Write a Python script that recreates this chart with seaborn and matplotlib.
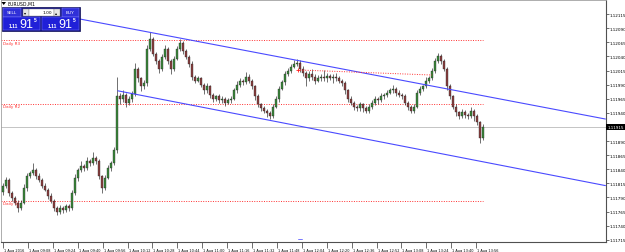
import matplotlib
matplotlib.use('Agg')
import matplotlib.pyplot as plt
import matplotlib.transforms as mtransforms
from matplotlib.patches import Rectangle, Polygon
import seaborn as sns
import numpy as np

sns.set_theme(style='white')
plt.rcParams['font.family'] = ['DejaVu Sans']

# EURUSD M1 closes
closes = [
    1.11811, 1.11821, 1.11798, 1.11789, 1.11781, 1.11772, 1.11781, 1.11807, 1.11828, 1.11833,
    1.11839, 1.11828, 1.11821, 1.11811, 1.11804, 1.11793, 1.11784, 1.11772, 1.11765, 1.11772,
    1.11768, 1.11775, 1.11772, 1.11798, 1.11825, 1.11839, 1.11846, 1.11842, 1.11855, 1.11851,
    1.11860, 1.11855, 1.11828, 1.11807, 1.11825, 1.11842, 1.11851, 1.11874, 1.11969, 1.11965,
    1.11972, 1.11958, 1.11965, 1.11974, 1.12018, 1.12001, 1.11987, 1.11992, 1.12053, 1.12071,
    1.12045, 1.12032, 1.12018, 1.12039, 1.12053, 1.12032, 1.12018, 1.12036, 1.12053, 1.12064,
    1.12050, 1.12039, 1.12027, 1.12004, 1.11997, 1.12001, 1.11990, 1.11980, 1.11987, 1.11972,
    1.11965, 1.11969, 1.11962, 1.11965, 1.11958, 1.11962, 1.11965, 1.11980, 1.11990, 1.11997,
    1.11994, 1.12004, 1.11997, 1.11987, 1.11969, 1.11955, 1.11948, 1.11944, 1.11939, 1.11934,
    1.11951, 1.11965, 1.11983, 1.11994, 1.12008, 1.12015, 1.12022, 1.12027, 1.12029, 1.12018,
    1.12011, 1.12001, 1.12008, 1.12004, 1.11997, 1.12002, 1.12004, 1.12001, 1.12006, 1.12001,
    1.12004, 1.12001, 1.11997, 1.11992, 1.11980, 1.11965, 1.11958, 1.11951, 1.11948, 1.11955,
    1.11948, 1.11944, 1.11951, 1.11958, 1.11965, 1.11962, 1.11969, 1.11972, 1.11976, 1.11980,
    1.11983, 1.11976, 1.11972, 1.11969, 1.11958, 1.11951, 1.11944, 1.11951, 1.11976, 1.11983,
    1.11987, 1.11997, 1.12001, 1.12015, 1.12032, 1.12041, 1.12032, 1.12018, 1.11987, 1.11969,
    1.11951, 1.11941, 1.11934, 1.11941, 1.11937, 1.11934, 1.11944, 1.11934, 1.11923, 1.11895,
    1.11915,
]
first_open = 1.11800
# wick length above / below the body, in points (0.00001)
wick_hi = [
    4, 6, 3, 4, 3, 5, 4, 6, 5, 4,
    12, 3, 5, 3, 4, 3, 4, 3, 2, 5,
    3, 4, 3, 5, 6, 4, 8, 3, 6, 4,
    10, 4, 3, 2, 4, 5, 4, 6, 35, 6,
    8, 3, 5, 4, 10, 4, 3, 6, 8, 12,
    4, 3, 4, 6, 8, 3, 4, 5, 6, 7,
    3, 4, 3, 4, 3, 5, 3, 2, 5, 3,
    4, 3, 4, 5, 3, 4, 5, 4, 6, 5,
    3, 8, 4, 3, 3, 4, 3, 4, 3, 4,
    5, 4, 5, 4, 6, 5, 4, 6, 7, 4,
    5, 3, 6, 10, 4, 5, 4, 12, 4, 3,
    5, 6, 4, 3, 4, 3, 4, 3, 3, 5,
    3, 4, 5, 4, 5, 3, 6, 4, 5, 4,
    6, 3, 4, 3, 4, 3, 2, 5, 4, 5,
    3, 6, 4, 5, 6, 5, 4, 3, 3, 4,
    3, 4, 3, 5, 4, 3, 6, 3, 4, 3,
    5,
]
wick_lo = [
    5, 4, 6, 5, 4, 8, 4, 3, 5, 4,
    3, 6, 4, 5, 3, 5, 4, 6, 7, 4,
    5, 3, 6, 4, 3, 5, 4, 6, 3, 5,
    4, 6, 5, 10, 4, 3, 5, 4, 6, 10,
    5, 8, 4, 6, 4, 6, 8, 5, 4, 3,
    5, 6, 8, 4, 3, 5, 10, 4, 3, 4,
    5, 4, 5, 6, 4, 3, 5, 6, 4, 5,
    6, 4, 5, 4, 6, 3, 4, 3, 5, 4,
    5, 3, 4, 5, 6, 4, 5, 4, 6, 5,
    4, 3, 5, 3, 4, 3, 4, 3, 4, 6,
    5, 14, 4, 5, 6, 3, 5, 4, 6, 3,
    8, 4, 5, 4, 6, 5, 4, 6, 5, 4,
    6, 5, 4, 5, 4, 6, 3, 5, 4, 3,
    5, 6, 4, 5, 4, 6, 5, 4, 3, 5,
    4, 3, 5, 3, 4, 3, 5, 4, 6, 5,
    4, 6, 5, 4, 6, 5, 3, 8, 5, 9,
    3,
]

price_ticks = [1.12115, 1.12090, 1.12065, 1.12040, 1.12015, 1.11990, 1.11965, 1.11940,
               1.11890, 1.11865, 1.11840, 1.11815, 1.11790, 1.11765, 1.11740, 1.11715]
time_labels = ['1 Aug 2016', '1 Aug 09:08', '1 Aug 09:24', '1 Aug 09:40', '1 Aug 09:56',
               '1 Aug 10:12', '1 Aug 10:28', '1 Aug 10:44', '1 Aug 11:00', '1 Aug 11:16',
               '1 Aug 11:32', '1 Aug 11:48', '1 Aug 12:04', '1 Aug 12:20', '1 Aug 12:36',
               '1 Aug 12:52', '1 Aug 13:08', '1 Aug 13:24', '1 Aug 13:40', '1 Aug 13:56']
pivot_names = ['Daily R3', 'Daily R2', 'Daily S1']
pivot_levels = [1.12069, 1.11956, 1.11784]
bid = 1.11915
upper_x, upper_y = [19, 200.8], [1.12113, 1.11929]
lower_x, lower_y = [38.3, 200.8], [1.11979, 1.11811]
red_x, red_y = [98.3, 143], [1.12016, 1.12007]

fig = plt.figure(figsize=(6.25, 2.53), dpi=100)
fig.patch.set_facecolor('white')
ax = fig.add_axes([1 / 625, 10 / 253, 604.5 / 625, 242 / 253])
ax.set_facecolor('white')

c = np.array(closes)
o = np.array([first_open] + closes[:-1])
x = np.arange(len(c))
hi = np.maximum(o, c) + np.array(wick_hi) / 1e5
lo = np.minimum(o, c) - np.array(wick_lo) / 1e5
ax.vlines(x, lo, hi, color='#202020', lw=0.45, zorder=3)
body = np.maximum(np.abs(c - o), 0.000012)
up = c >= o
ax.bar(x[up], body[up], bottom=np.minimum(o, c)[up], width=0.6, color='#3b8a3b',
       edgecolor='#202020', linewidth=0.25, zorder=4)
ax.bar(x[~up], body[~up], bottom=np.minimum(o, c)[~up], width=0.6, color='#8c3f3f',
       edgecolor='#202020', linewidth=0.25, zorder=4)

# bid line
ax.axhline(bid, color='#c4c4c4', lw=0.7, zorder=1)

# pivots
for name, lvl in zip(pivot_names, pivot_levels):
    ax.hlines(lvl, -0.67, 160, color='#ff3030', lw=0.7, linestyles=(0, (1, 1.5)), zorder=2)
    ax.text(0, lvl - 0.00001, name, color='#ff3030', fontsize=3, va='top', ha='left')

# channel
sns.lineplot(x=upper_x, y=upper_y, color='#4a4aff', lw=0.8, ax=ax, zorder=5)
sns.lineplot(x=lower_x, y=lower_y, color='#4a4aff', lw=0.8, ax=ax, zorder=5)
ax.plot(red_x, red_y, color='#ff3030', lw=0.7, ls=(0, (1, 1.5)), zorder=5)
ax.plot(red_x[0], red_y[0], marker='+', color='#ff2020', ms=3, mew=0.6, zorder=6)

ax.set_xlim(-0.67, 200.83)
ax.set_ylim(1.11711, 1.12140)
ax.yaxis.tick_right()
ax.set_yticks(price_ticks, [f'{p:.5f}' for p in price_ticks])
ax.tick_params(axis='y', labelsize=3, length=2, width=0.4, pad=1, colors='black',
               right=True, left=False)
ax.set_xticks([k * 8.3 for k in range(len(time_labels))], time_labels)
ax.tick_params(axis='x', labelsize=2.5, length=4, width=0.4, pad=0.5, colors='black',
               bottom=True)
plt.setp(ax.get_xticklabels(), ha='left')
for lbl in ax.get_xticklabels():
    lbl.set_transform(lbl.get_transform() + mtransforms.ScaledTranslation(1 / 100, 0, fig.dpi_scale_trans))
ax.grid(False)
for side in ['left', 'top']:
    ax.spines[side].set_color('#a0a0a0')
    ax.spines[side].set_linewidth(0.6)
for side in ['right', 'bottom']:
    ax.spines[side].set_color('#505050')
    ax.spines[side].set_linewidth(0.8)

trans = mtransforms.blended_transform_factory(ax.transAxes, ax.transData)
ax.text(1.003, bid, f'{bid:.5f}', transform=trans, fontsize=3, color='white', va='center',
        ha='left', bbox=dict(fc='black', ec='none', pad=0.7), zorder=10)

# one-click trading panel and header (screen elements, pixel coordinates)
ui = fig.add_axes([0, 0, 1, 1])
ui.set_xlim(0, 625)
ui.set_ylim(253, 0)
ui.axis('off')
ui.add_patch(Polygon([[1.5, 3], [6, 3], [3.7, 6]], closed=True, fc='black', ec='none'))
ui.text(7, 4.5, 'EURUSD,M1', fontsize=3.3, va='center', ha='left', color='black')
ui.add_patch(Rectangle((2, 7.5), 78, 24, fc='#16168a', ec='#0a0a50', lw=0.5))
ui.add_patch(Rectangle((3, 8.5), 17.5, 9, fc='#3030d8', ec='#9090ff', lw=0.3))
ui.text(11.7, 13, 'SELL', fontsize=3.2, color='white', ha='center', va='center')
ui.add_patch(Rectangle((62, 8.5), 17, 9, fc='#3030d8', ec='#9090ff', lw=0.3))
ui.text(70.5, 13, 'BUY', fontsize=3.2, color='white', ha='center', va='center')
ui.add_patch(Rectangle((22.5, 9.5), 6, 7.5, fc='#e6e6e6', ec='#808080', lw=0.3))
ui.text(25.5, 13.2, '▾', fontsize=3, color='black', ha='center', va='center')
ui.add_patch(Rectangle((28.5, 9.5), 25, 7.5, fc='white', ec='#808080', lw=0.3))
ui.text(52, 13.2, '1.00', fontsize=3.2, color='black', ha='right', va='center')
ui.add_patch(Rectangle((53.5, 9.5), 6, 7.5, fc='#e6e6e6', ec='#808080', lw=0.3))
ui.text(56.5, 13.2, '▴', fontsize=3, color='black', ha='center', va='center')
for x0 in [3, 42]:
    ui.add_patch(Rectangle((x0, 18), 37, 13, fc='#2020d8', ec='#8080ff', lw=0.3))
    ui.text(x0 + 6, 26.5, '1.11', fontsize=3.6, color='white', ha='left', va='center',
            family='Liberation Sans', weight='bold')
    ui.text(x0 + 16, 24.5, '91', fontsize=9, color='white', ha='left', va='center',
            family='Liberation Sans')
    ui.text(x0 + 30.5, 20.5, '5', fontsize=3.6, color='white', ha='left', va='center',
            family='Liberation Sans', weight='bold')
ui.plot([298, 302], [239.5, 239.5], color='#6060ff', lw=0.6)

fig.savefig('out.png', dpi=100, facecolor='white')
